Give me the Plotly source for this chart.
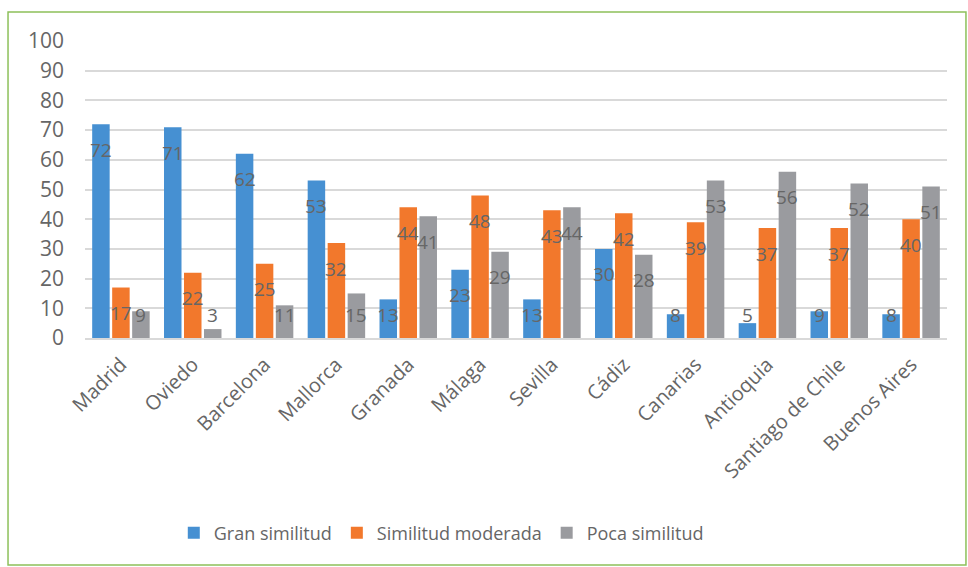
import plotly.graph_objects as go

categories = ["Madrid", "Oviedo", "Barcelona", "Mallorca", "Granada", "Málaga",
              "Sevilla", "Cádiz", "Canarias", "Antioquia", "Santiago de Chile", "Buenos Aires"]
gran = [72, 71, 62, 53, 13, 23, 13, 30, 8, 5, 9, 8]
moderada = [17, 22, 25, 32, 44, 48, 43, 42, 39, 37, 37, 40]
poca = [9, 3, 11, 15, 41, 29, 44, 28, 53, 56, 52, 51]
series_names = ["Gran similitud", "Similitud moderada", "Poca similitud"]
colors = ["#4690d2", "#f2782c", "#9a9b9f"]
y_ticks = list(range(0, 101, 10))

FONT = "Open Sans"
TXT = "#666666"

fig = go.Figure()
all_series = [gran, moderada, poca]
for name, vals, col in zip(series_names, all_series, colors):
    fig.add_trace(go.Bar(x=categories, y=vals, name=name,
                         marker=dict(color=col, line=dict(width=0))))

# data labels near the inside end of each bar
slot_px = 20
annotations = []
for k, vals in enumerate(all_series):
    for cat, v in zip(categories, vals):
        annotations.append(dict(
            x=cat, y=max(v - 8.6, 7.6), xref="x", yref="y",
            text=str(v), showarrow=False, xshift=(k - 1) * slot_px,
            font=dict(family=FONT, size=19, color=TXT)))

fig.update_layout(
    width=968, height=567,
    margin=dict(l=85, r=21, t=41, b=229),
    paper_bgcolor="white", plot_bgcolor="white",
    barmode="group", bargap=0.165, bargroupgap=0.125,
    font=dict(family=FONT, color=TXT),
    showlegend=True,
    legend=dict(orientation="h", x=0.103, xanchor="left", y=-0.657, yanchor="middle",
                font=dict(family=FONT, size=18, color=TXT), itemwidth=30,
                traceorder="normal"),
    annotations=annotations,
    shapes=[dict(type="rect", xref="paper", yref="paper",
                 x0=-0.0893, x1=1.022, y0=-0.764, y1=1.0976,
                 line=dict(color="#8dc05a", width=1.5), fillcolor="rgba(0,0,0,0)",
                 layer="below")],
)
fig.update_yaxes(range=[0, 100], tickvals=y_ticks, showgrid=True, gridcolor="#d9d9d9",
                 gridwidth=2, zeroline=False, showline=False, ticks="",
                 tickfont=dict(family=FONT, size=21, color=TXT), ticklabelstandoff=20)
fig.update_xaxes(tickangle=-45, showline=True, linecolor="#d9d9d9", linewidth=2,
                 ticks="", tickfont=dict(family=FONT, size=20, color=TXT),
                 ticklabelstandoff=5)

fig.write_html("out.html")
